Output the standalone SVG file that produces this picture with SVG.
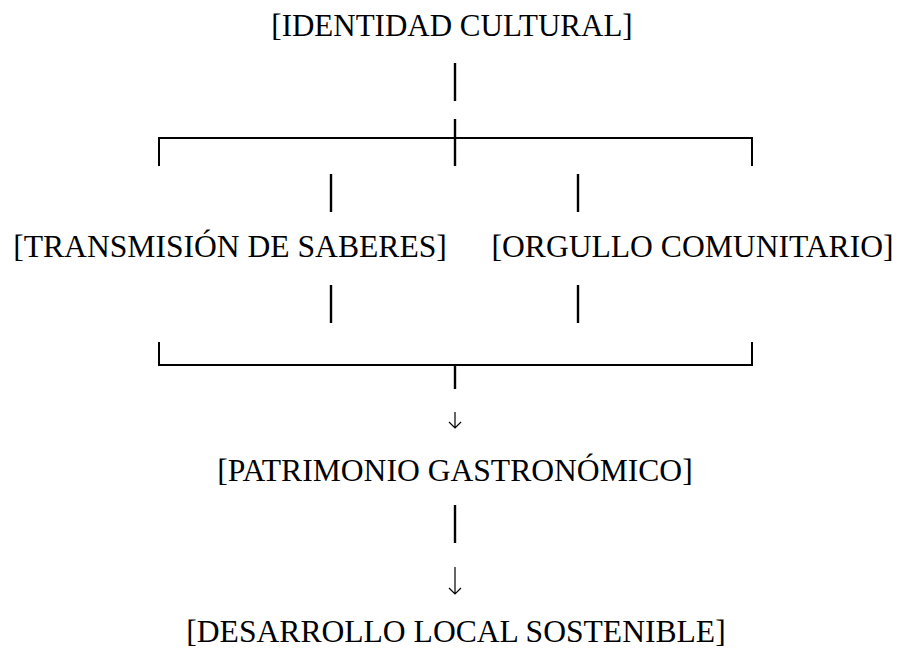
<svg xmlns="http://www.w3.org/2000/svg" width="899" height="648" viewBox="0 0 899 648">
<style>
.t{font-family:"Liberation Serif","Times New Roman",serif;font-size:31.6px;fill:#000;text-anchor:middle}
.ln{stroke:#000;stroke-width:2.4;fill:none}
.hl{stroke:#000;stroke-width:2;fill:none}
.ar{stroke:#000;stroke-width:1.2;fill:none}
</style>
<rect width="899" height="648" fill="#fff"/>
<g id="identidad"><text class="t" x="452" y="36" style="font-size:31px">[IDENTIDAD CULTURAL]</text></g>
<g id="transmision"><text class="t" x="230" y="257">[TRANSMISIÓN DE SABERES]</text></g>
<g id="orgullo"><text class="t" x="692.5" y="257">[ORGULLO COMUNITARIO]</text></g>
<g id="patrimonio"><text class="t" x="455" y="481">[PATRIMONIO GASTRONÓMICO]</text></g>
<g id="desarrollo"><text class="t" x="456" y="642">[DESARROLLO LOCAL SOSTENIBLE]</text></g>
<g id="connectors">
<line class="ln" x1="455" y1="63" x2="455" y2="101"/>
<path class="hl" d="M159,166 V138 H752 V166"/>
<line class="ln" x1="455" y1="119" x2="455" y2="166"/>
<line class="ln" x1="331" y1="174" x2="331" y2="212"/>
<line class="ln" x1="578" y1="174" x2="578" y2="212"/>
<line class="ln" x1="331" y1="285" x2="331" y2="323"/>
<line class="ln" x1="578" y1="285" x2="578" y2="323"/>
<path class="hl" d="M159,342 V365 H752 V342"/>
<line class="ln" x1="455" y1="365" x2="455" y2="389"/>
<path class="ar" d="M455,412 V428 M449,422 L455,428 L461,422"/>
<line class="ln" x1="455" y1="505" x2="455" y2="543"/>
<path class="ar" d="M455,567 V594 M449,588 L455,594 L461,588"/>
</g>
</svg>
